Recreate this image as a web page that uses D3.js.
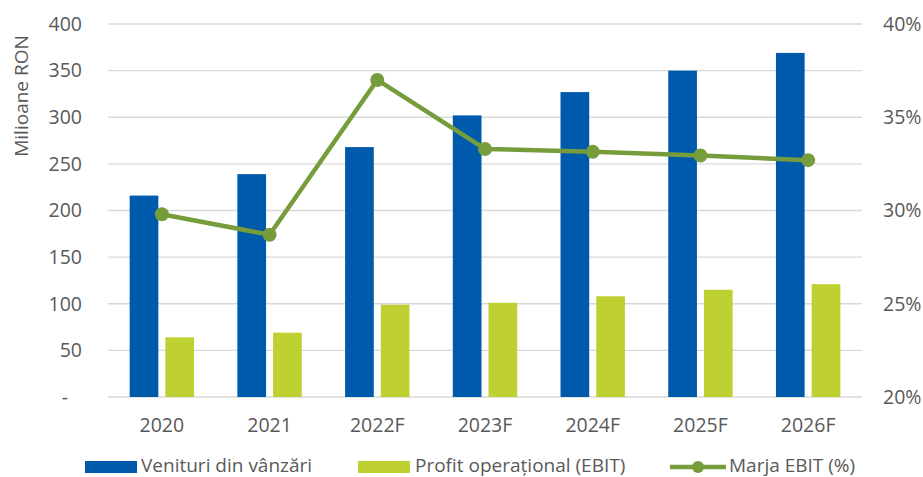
<!DOCTYPE html>
<html>
<head>
<meta charset="utf-8">
<script src="https://cdn.jsdelivr.net/npm/d3@7"></script>
<style>
  body { margin: 0; background: #fff; }
  text { font-family: "Open Sans", sans-serif; fill: #595959; }
</style>
</head>
<body>
<div id="chart"></div>
<script>
// chart values
var years = ["2020", "2021", "2022F", "2023F", "2024F", "2025F", "2026F"]
var venituri = [216, 239, 268, 302, 327, 350, 369]
var ebit = [64, 69, 99, 101, 108, 115, 121]
var marja = [29.8, 28.7, 37.0, 33.3, 33.15, 32.95, 32.7]
var leftTicks = [0, 50, 100, 150, 200, 250, 300, 350, 400]
var rightTicks = [20, 25, 30, 35, 40]

var width = 923, height = 477
var margin = {top: 24, right: 61, bottom: 80, left: 108}
var fs = "19.5px"

var svg = d3.select("#chart").append("svg")
  .attr("width", width)
  .attr("height", height)

var x = d3.scaleBand()
  .domain(years)
  .range([margin.left, width - margin.right])

var y = d3.scaleLinear()
  .domain([0, 400])
  .range([height - margin.bottom, margin.top])

var y2 = d3.scaleLinear()
  .domain([20, 40])
  .range([height - margin.bottom, margin.top])

// gridlines
svg.append("g").selectAll("line")
  .data(leftTicks)
  .enter()
  .append("line")
  .attr("x1", margin.left)
  .attr("x2", width - margin.right)
  .attr("y1", d => y(d))
  .attr("y2", d => y(d))
  .style("stroke", "#d9d9d9")
  .style("stroke-width", 1.3)

// left axis
var leftAxis = d3.axisLeft(y)
  .tickValues(leftTicks)
  .tickSize(0)
  .tickPadding(26)
  .tickFormat(d => d == 0 ? "-" : d)
var gl = svg.append("g")
  .attr("transform", `translate(${margin.left},0)`)
  .call(leftAxis)
gl.select(".domain").remove()
gl.selectAll("text").style("font-size", fs)
gl.selectAll(".tick").filter(d => d == 0).select("text").attr("dx", -14)

// right axis
var rightAxis = d3.axisRight(y2)
  .tickValues(rightTicks)
  .tickSize(0)
  .tickPadding(21)
  .tickFormat(d => d + "%")
var gr = svg.append("g")
  .attr("transform", `translate(${width - margin.right},0)`)
  .call(rightAxis)
gr.select(".domain").remove()
gr.selectAll("text").style("font-size", fs)

// x axis
var xAxis = d3.axisBottom(x).tickSize(0).tickPadding(21)
var gx = svg.append("g")
  .attr("transform", `translate(0,${height - margin.bottom})`)
  .call(xAxis)
gx.select(".domain").remove()
gx.selectAll("text").style("font-size", fs)

// y title
svg.append("text")
  .text("Milioane RON")
  .attr("transform", "translate(28,96) rotate(-90)")
  .attr("text-anchor", "middle")
  .style("font-size", "19px")

// bars
var barW = 28.7, gap = 7
var center = d => x(d) + x.bandwidth() / 2

svg.append("g").selectAll("rect")
  .data(venituri)
  .enter()
  .append("rect")
  .attr("x", (d, i) => center(years[i]) - gap / 2 - barW)
  .attr("y", d => y(d))
  .attr("width", barW)
  .attr("height", d => y(0) - y(d))
  .style("fill", "#005aab")

svg.append("g").selectAll("rect")
  .data(ebit)
  .enter()
  .append("rect")
  .attr("x", (d, i) => center(years[i]) + gap / 2)
  .attr("y", d => y(d))
  .attr("width", barW)
  .attr("height", d => y(0) - y(d))
  .style("fill", "#bfd032")

// margin line
var line = d3.line()
  .x((d, i) => center(years[i]))
  .y(d => y2(d))

svg.append("path")
  .datum(marja)
  .attr("d", line)
  .style("fill", "none")
  .style("stroke", "#769c3c")
  .style("stroke-width", 4.5)
  .style("stroke-linejoin", "round")

svg.append("g").selectAll("circle")
  .data(marja)
  .enter()
  .append("circle")
  .attr("cx", (d, i) => center(years[i]))
  .attr("cy", d => y2(d))
  .attr("r", 7)
  .style("fill", "#769c3c")

// legend
var legY = 466
var lfs = "19px"
var legend = svg.append("g")

legend.append("rect").attr("x", 85).attr("y", legY - 5).attr("width", 52).attr("height", 12).style("fill", "#005aab")
legend.append("text").text("Venituri din vânzări").attr("x", 141).attr("y", legY).attr("dy", "0.33em").style("font-size", lfs)

legend.append("rect").attr("x", 358).attr("y", legY - 5).attr("width", 52).attr("height", 12).style("fill", "#bfd032")
legend.append("text").text("Profit operațional (EBIT)").attr("x", 415).attr("y", legY).attr("dy", "0.33em").style("font-size", lfs)

legend.append("line").attr("x1", 670).attr("x2", 726).attr("y1", legY + 1).attr("y2", legY + 1)
  .style("stroke", "#769c3c").style("stroke-width", 4.5)
legend.append("circle").attr("cx", 698).attr("cy", legY + 1).attr("r", 6).style("fill", "#769c3c")
legend.append("text").text("Marja EBIT (%)").attr("x", 729).attr("y", legY).attr("dy", "0.33em").style("font-size", lfs)
</script>
</body>
</html>
